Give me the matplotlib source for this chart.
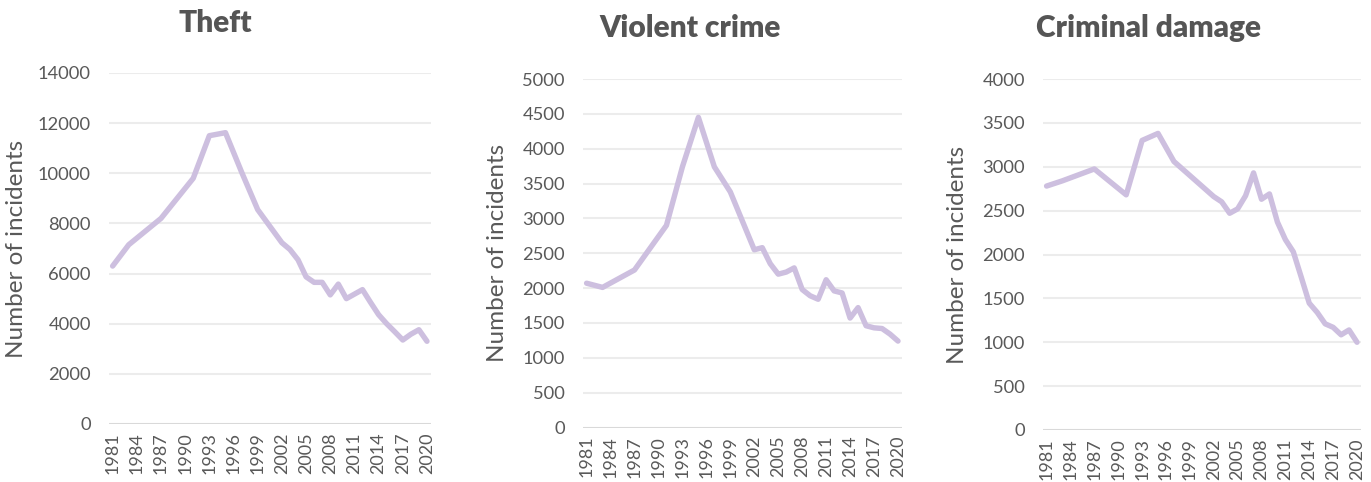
import matplotlib
matplotlib.use("Agg")
import matplotlib.pyplot as plt

plt.rcParams["font.family"] = ["Lato", "DejaVu Sans"]

# Survey years (annual from 2001/02, plotted at year end)
years = [1981, 1983, 1987, 1991, 1993, 1995, 1997, 1999,
         2002, 2003, 2004, 2005, 2006, 2007, 2008, 2009, 2010,
         2011, 2012, 2013, 2014, 2015, 2016, 2017, 2018, 2019, 2020]

theft = [6300, 7150, 8200, 9800, 11500, 11620, 10050, 8550,
         7230, 6960, 6550, 5870, 5650, 5650, 5150, 5580, 5000,
         5180, 5360, 4850, 4360, 4000, 3680, 3350, 3580, 3760, 3300]

violent = [2070, 2010, 2260, 2900, 3740, 4450, 3740, 3380,
           2550, 2580, 2350, 2200, 2230, 2290, 1980, 1890, 1840,
           2120, 1960, 1930, 1570, 1720, 1460, 1430, 1420, 1340, 1240]

damage = [2780, 2840, 2975, 2680, 3300, 3380, 3060, 2900,
          2660, 2600, 2470, 2520, 2670, 2930, 2630, 2690, 2370,
          2170, 2030, 1740, 1445, 1340, 1210, 1170, 1085, 1140, 1000]

titles = ["Theft", "Violent crime", "Criminal damage"]
ylimits = [14000, 5000, 4000]
ysteps = [2000, 500, 500]
xticks = list(range(1981, 2021, 3))

W, H = 1371, 482
fig = plt.figure(figsize=(W / 100, H / 100), dpi=100)

# axes boxes in pixels: left, right, top, bottom
boxes = [(109, 431, 73, 424), (583, 902, 79, 427.5), (1043, 1361, 79, 430)]
title_pos = [(215, 23), (690, 28), (1148, 28)]
ylabel_x = [17, 497, 957]

line_color = "#cdbfdf"
text_color = "#595959"
grid_color = "#ececec"

for i, series in enumerate([theft, violent, damage]):
    l, r, t, b = boxes[i]
    ax = fig.add_axes([l / W, 1 - b / H, (r - l) / W, (b - t) / H])
    ax.plot(years, series, color=line_color, lw=3.9, solid_joinstyle="round",
            solid_capstyle="round", zorder=3, clip_on=False)
    ax.set_xlim(1980.55, 2020.5)
    ax.set_ylim(0, ylimits[i])
    yt = list(range(0, ylimits[i] + 1, ysteps[i]))
    ax.set_yticks(yt)
    ax.set_yticklabels([str(v) for v in yt])
    ax.set_xticks(xticks)
    ax.set_xticklabels([str(y) for y in xticks], rotation=90, va="top")
    for v in yt[1:]:
        ax.axhline(v, color=grid_color, lw=1.5, zorder=1)
    ax.axhline(0, color="#d9d9d9", lw=1.5, zorder=1)
    for s in ax.spines.values():
        s.set_visible(False)
    ax.tick_params(axis="both", length=0, labelcolor=text_color)
    ax.tick_params(axis="y", pad=13, labelsize=13.2)
    ax.tick_params(axis="x", pad=6, labelsize=13)
    ax.set_facecolor("none")
    fig.text(ylabel_x[i] / W, 1 - ((t + b) / 2) / H, "Number of incidents",
             rotation=90, ha="center", va="center", fontsize=17.5,
             color=text_color)
    tx, ty = title_pos[i]
    fig.text(tx / W, 1 - ty / H, titles[i], ha="center", va="center",
             fontsize=21.5, fontweight="heavy", color="#555555")

fig.savefig("out.png", dpi=100)
